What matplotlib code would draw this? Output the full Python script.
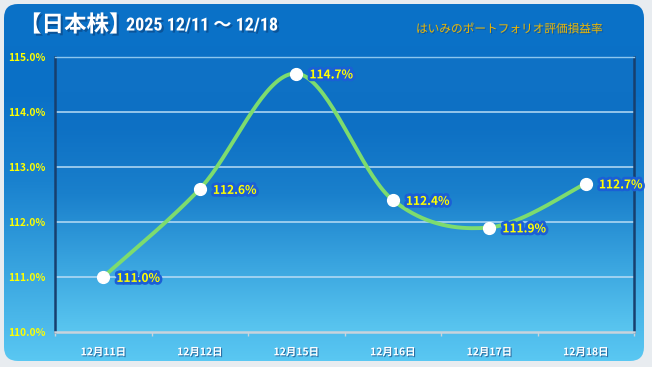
import numpy as np
import matplotlib
matplotlib.use("Agg")
import matplotlib.pyplot as plt
from matplotlib.patches import FancyBboxPatch
from matplotlib.colors import LinearSegmentedColormap
import matplotlib.patheffects as pe
from matplotlib import font_manager

plt.rcParams['font.family'] = ['Noto Sans CJK JP', 'DejaVu Sans']

# ---- data ----
categories = ["12月11日", "12月12日", "12月15日", "12月16日", "12月17日", "12月18日"]
values = [111.0, 112.6, 114.7, 112.4, 111.9, 112.7]
y_ticks = [110.0, 111.0, 112.0, 113.0, 114.0, 115.0]
title_jp = "【日本株】"
title_dates = "2025 12/11 〜 12/18"
subtitle = "はいみのポートフォリオ評価損益率"

names = {f.name for f in font_manager.fontManager.ttflist}
cond_names = [f.name for f in font_manager.fontManager.ttflist
              if str(f.stretch) in ("condensed", "semi-condensed", "75", "87.5", "extra-condensed")]
narrow, stretch, dsize = None, "normal", 10.8
for cand in ["Liberation Sans Narrow", "DejaVu Sans Condensed", "Roboto Condensed", "Open Sans Condensed"]:
    if cand in names:
        narrow, dsize = cand, 13
        break
if narrow is None and "DejaVu Sans" in cond_names:
    narrow, stretch, dsize = "DejaVu Sans", "condensed", 11.4
if narrow is None:
    narrow = "Noto Sans CJK JP"

W, H = 652, 367
fig = plt.figure(figsize=(W / 100, H / 100), dpi=100)
fig.patch.set_facecolor("#e8ecf0")

# background rounded panel with gradient
bg = fig.add_axes([0, 0, 1, 1])
bg.set_xlim(0, W)
bg.set_ylim(0, H)
bg.axis("off")
cmap_bg = LinearSegmentedColormap.from_list("bg", ["#5bc9f3", "#3aa6e0", "#1a82cf", "#0a70c6", "#0b72c8"])
grad = np.linspace(0, 1, 256).reshape(-1, 1)
im = bg.imshow(grad, extent=[0, W - 3, 2, H], origin="lower", cmap=cmap_bg, aspect="auto", zorder=1)
panel = FancyBboxPatch((4, 6), W - 12, H - 10, boxstyle="round,pad=0,rounding_size=14",
                       facecolor="none", edgecolor="none", zorder=2)
bg.add_patch(panel)
im.set_clip_path(panel)

# titles
shadow = [pe.withSimplePatchShadow(offset=(1.5, -1.5), shadow_rgbFace="#0a3f7a", alpha=0.6)]
bg.text(19, H - 25, title_jp, color="white", fontsize=16.2, fontweight="bold", va="center", ha="left",
        zorder=5, path_effects=shadow)
bg.text(126, H - 25.5, title_dates, color="white", fontsize=dsize, fontweight="bold", va="center", ha="left",
        zorder=5, family=[narrow, 'Noto Sans CJK JP', 'DejaVu Sans'], fontstretch=stretch,
        path_effects=shadow)
bg.text(509, H - 29, subtitle, color="#f0b800", fontsize=8.4, style="italic", va="center", ha="center", zorder=5,
        path_effects=[pe.withSimplePatchShadow(offset=(0.8, -0.8), shadow_rgbFace="#0a3f7a", alpha=0.5)])

# main axes
left, right, top, bottom = 55, 634, 57, 332
ax = fig.add_axes([left / W, 1 - bottom / H, (right - left) / W, (bottom - top) / H])
ax.set_xlim(-0.5, len(categories) - 0.5)
ax.set_ylim(y_ticks[0], y_ticks[-1])
cmap_pa = LinearSegmentedColormap.from_list("pa", ["#5ac6f0", "#39a4df", "#1a80cc", "#0d70c4", "#0f72c6"])
ax.imshow(grad, extent=[-0.5, len(categories) - 0.5, y_ticks[0], y_ticks[-1]], origin="lower",
          cmap=cmap_pa, aspect="auto", zorder=0)
ax.set_facecolor("none")

for yv in y_ticks[1:]:
    ax.axhline(yv, color="#b8dcf5", lw=1.3, alpha=0.85, zorder=1)

for s in ["left", "right"]:
    ax.spines[s].set_color("#173f6e")
    ax.spines[s].set_linewidth(1.8)
ax.spines["top"].set_color("#8cc6ee")
ax.spines["top"].set_linewidth(1.0)
ax.spines["bottom"].set_color("#c9d3dc")
ax.spines["bottom"].set_linewidth(1.8)

# smooth curve (Excel-like Bezier smoothing)
x = np.arange(len(values), dtype=float)
y = np.array(values, dtype=float)
xs, ys = [], []
t = np.linspace(0, 1, 40)
for i in range(len(x) - 1):
    p0 = np.array([x[i], y[i]])
    p3 = np.array([x[i + 1], y[i + 1]])
    pm = np.array([x[i - 1], y[i - 1]]) if i > 0 else p0
    pp = np.array([x[i + 2], y[i + 2]]) if i + 2 < len(x) else p3
    c1 = p0 + (p3 - pm) / 6.0
    c2 = p3 - (pp - p0) / 6.0
    b = ((1 - t) ** 3)[:, None] * p0 + (3 * (1 - t) ** 2 * t)[:, None] * c1 + \
        (3 * (1 - t) * t ** 2)[:, None] * c2 + (t ** 3)[:, None] * p3
    xs.extend(b[:, 0]); ys.extend(b[:, 1])
ax.plot(xs, ys, color="#7ddc6e", lw=2.8, solid_capstyle="round", zorder=3, clip_on=False)
ax.plot(x, y, "o", ms=8.5, color="white", mec="white", zorder=4, clip_on=False)

for xi, yi in zip(x, y):
    ax.annotate(f"{yi:.1f}%", (xi, yi), xytext=(9.5, -1), textcoords="offset points",
                ha="left", va="center", color="#ffff00", fontsize=8.6, fontweight="bold", zorder=5,
                path_effects=[pe.withStroke(linewidth=4, foreground="#1b5fd6")])

ax.set_yticks(y_ticks)
ax.set_yticklabels([f"{v:.1f}%" for v in y_ticks])
ax.tick_params(axis="y", length=0, pad=7, labelsize=7.3, labelcolor="#ffff00")
for lab in ax.get_yticklabels():
    lab.set_fontweight("bold")

ax.set_xticks(np.arange(len(categories) + 1) - 0.5, minor=True)
ax.set_xticks(x)
ax.set_xticklabels(categories)
ax.tick_params(axis="x", which="major", length=0, pad=11, labelsize=7.5, labelcolor="white")
ax.tick_params(axis="x", which="minor", length=3, direction="out", color="#c9d3dc", width=1)
for lab in ax.get_xticklabels():
    lab.set_fontweight("bold")
    lab.set_path_effects([pe.withSimplePatchShadow(offset=(0.8, -0.8), shadow_rgbFace="#1b4e86", alpha=0.7)])

fig.savefig("out.png", dpi=100, facecolor=fig.get_facecolor())
